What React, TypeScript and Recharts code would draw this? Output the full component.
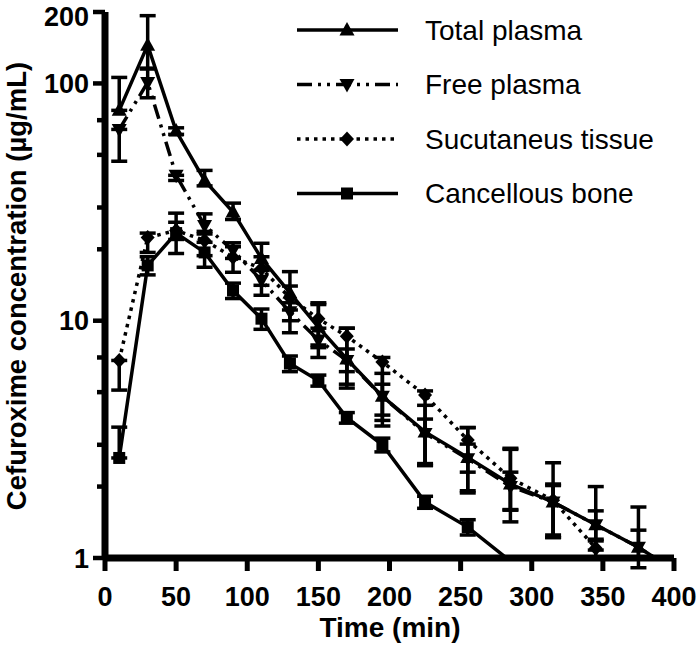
import React from 'react';
import { LineChart, Line, XAxis, YAxis, ErrorBar, Legend, Label } from 'recharts';

// sampling times (min)
const PLASMA_TIME = [10, 30, 50, 70, 90, 110, 130, 150, 170, 195, 225, 255, 285, 315, 345, 375, 405];
const TISSUE_TIME = [10, 30, 50, 70, 90, 110, 130, 150, 170, 195, 225, 255, 285, 315, 345];
const BONE_TIME = [10, 30, 50, 70, 90, 110, 130, 150, 170, 195, 225, 255, 285];

// mean concentrations (µg/mL)
const TOTAL_PLASMA = [77, 145, 63, 39, 28.7, 18.3, 13.1, 9.4, 6.9, 4.8, 3.4, 2.65, 2.05, 1.72, 1.38, 1.11, 0.85];
const FREE_PLASMA = [64, 101, 41, 25.2, 19.8, 14.8, 10.9, 8.3, 6.8, 4.8, 3.35, 2.62, 2.0, 1.72, 1.38, 1.11, 0.85];
const SUBCUT_TISSUE = [6.8, 22.4, 24, 21.8, 18.5, 16.6, 12.5, 10.2, 8.6, 6.7, 4.86, 3.14, 2.17, 1.75, 1.1];
const CANCELLOUS_BONE = [2.64, 17.1, 23.4, 19.4, 13.4, 10.2, 6.6, 5.6, 3.9, 3.0, 1.72, 1.35, 0.97];

// error bars [below, above]
const TOTAL_ERR = [[0, 29], [30, 48], [2, 2], [2, 4], [2, 2.6], [2, 2.9], [2, 3], [1.5, 2.5], [1.5, 2.4], [1, 1.2], [0.9, 1.0], [0.35, 0.9], [0.45, 0.85], [0.5, 0.8], [0.3, 0.62], [0.2, 0.53], null];
const FREE_ERR = [[17, 0], [14, 15], [2, 0], [2, 3], [1.5, 1.5], [2, 1.5], [2, 1], [1.3, 1], [1.6, 0.8], [0.8, 0.6], [0.9, 0.5], [0.7, 0.4], [0.41, 0.3], [0.5, 0.3], [0.2, 0.2], [0.1, 0.2], null];
const TISSUE_ERR = [[1.7, 0], [3, 1], [2, 2], [3, 2], [2.5, 2], [2.5, 2], [2.5, 1.5], [2.5, 1.5], [2.5, 0.7], [3.1, 0.3], [2.4, 0.2], [1.26, 0.4], [0.75, 0.7], [0.5, 0.3], [0.1, 0.1]];
const BONE_ERR = [[0, 0.92], [1.5, 1.5], [4.2, 5], [2.6, 2], [1, 1], [1, 1], [0.5, 0.5], [0.3, 0.3], [0.2, 0.2], [0.2, 0.2], [0.1, 0.1], [0.1, 0.1], null];

const X_TICKS = [0, 50, 100, 150, 200, 250, 300, 350, 400];
const Y_TICKS = [1, 2, 3, 4, 5, 6, 7, 8, 9, 10, 20, 30, 40, 50, 60, 70, 80, 90, 100, 200];
const Y_LABELED = [1, 10, 100, 200];

const FONT = '"Liberation Sans", Arial, sans-serif';

const build = (time: number[], conc: number[], err: any[]) =>
  time.map((t, i) => ({ time: t, conc: conc[i], err: err[i] }));

const SERIES = [
  { name: 'Total plasma', data: build(PLASMA_TIME, TOTAL_PLASMA, TOTAL_ERR), dash: undefined, shape: 'up' },
  { name: 'Free plasma', data: build(PLASMA_TIME, FREE_PLASMA, FREE_ERR), dash: '15 6 3 6 3 6', shape: 'down' },
  { name: 'Sucutaneus tissue', data: build(TISSUE_TIME, SUBCUT_TISSUE, TISSUE_ERR), dash: '3.5 5', shape: 'diamond' },
  { name: 'Cancellous bone', data: build(BONE_TIME, CANCELLOUS_BONE, BONE_ERR), dash: undefined, shape: 'square' },
];

function Marker({ shape, cx, cy }: { shape: string; cx: number; cy: number }) {
  if (shape === 'up') {
    return <polygon points={`${cx},${cy - 8} ${cx + 7.5},${cy + 5.5} ${cx - 7.5},${cy + 5.5}`} fill="#000" />;
  }
  if (shape === 'down') {
    return <polygon points={`${cx - 7.5},${cy - 5.5} ${cx + 7.5},${cy - 5.5} ${cx},${cy + 8}`} fill="#000" />;
  }
  if (shape === 'diamond') {
    return <polygon points={`${cx},${cy - 7.5} ${cx + 7},${cy} ${cx},${cy + 7.5} ${cx - 7},${cy}`} fill="#000" />;
  }
  return <rect x={cx - 6} y={cy - 6} width={12} height={12} fill="#000" />;
}

const makeDot = (shape: string) => (props: any) => {
  const { cx, cy, value, index } = props;
  if (cx == null || cy == null || value < 1) return <g key={`${shape}-${index}`} />;
  return (
    <g key={`${shape}-${index}`}>
      <Marker shape={shape} cx={cx} cy={cy} />
    </g>
  );
};

const YTick = (props: any) => {
  const { x, y, payload } = props;
  const major = Y_LABELED.includes(payload.value);
  const len = major ? 12 : 8;
  return (
    <g>
      <line x1={x} x2={x - len} y1={y} y2={y} stroke="#000" strokeWidth={4.5} />
      {major && (
        <text
          x={x - len - 4}
          y={y}
          dy={payload.value === 200 ? '0.5em' : '0.36em'}
          textAnchor="end"
          fontFamily={FONT}
          fontWeight="bold"
          fontSize={27}
          fill="#000"
        >
          {payload.value}
        </text>
      )}
    </g>
  );
};

const XTick = (props: any) => {
  const { x, y, payload } = props;
  return (
    <g>
      <line x1={x} x2={x} y1={y} y2={y + 13} stroke="#000" strokeWidth={5} />
      <text x={x} y={y + 48} textAnchor="middle" fontFamily={FONT} fontWeight="bold" fontSize={27} fill="#000">
        {payload.value}
      </text>
    </g>
  );
};

const renderLegend = () => (
  <svg width={420} height={220}>
    {SERIES.map((s, i) => {
      const cy = 30 + i * 54.5;
      return (
        <g key={s.name}>
          <line x1={17} x2={118} y1={cy} y2={cy} stroke="#000" strokeWidth={3.5} strokeDasharray={s.dash} />
          <Marker shape={s.shape} cx={67} cy={cy} />
          <text x={145} y={cy} dy="0.355em" fontFamily={FONT} fontSize={28} fill="#000">
            {s.name}
          </text>
        </g>
      );
    })}
  </svg>
);

export default function App() {
  return (
    <div style={{ position: 'absolute', left: 0, top: 0, background: '#fff' }}>
      <LineChart width={700} height={659} margin={{ top: 12, right: 26, left: 0, bottom: 0 }}>
        <XAxis
          dataKey="time"
          type="number"
          domain={[0, 400]}
          ticks={X_TICKS}
          allowDataOverflow
          height={101}
          tickLine={false}
          tickSize={0}
          tickMargin={0}
          tick={<XTick />}
          axisLine={{ stroke: '#000', strokeWidth: 7 }}
        >
          <Label
            content={() => (
              <text x={390} y={637} textAnchor="middle" fontFamily={FONT} fontWeight="bold" fontSize={28} fill="#000">
                Time (min)
              </text>
            )}
          />
        </XAxis>
        <YAxis
          type="number"
          scale="log"
          domain={[1, 200]}
          ticks={Y_TICKS}
          allowDataOverflow
          width={105}
          tickLine={false}
          tickSize={0}
          tickMargin={0}
          tick={<YTick />}
          axisLine={{ stroke: '#000', strokeWidth: 7 }}
        >
          <Label
            content={() => (
              <text transform="translate(26, 286) rotate(-90)" textAnchor="middle" fontFamily={FONT} fontWeight="bold" fontSize={27.5} fill="#000">
                Cefuroxime concentration (µg/mL)
              </text>
            )}
          />
        </YAxis>
        <Legend
          layout="horizontal"
          verticalAlign="middle"
          align="center"
          content={renderLegend}
          wrapperStyle={{ top: 0, left: 280, width: 420, height: 220 }}
        />
        {SERIES.map((s) => (
          <Line
            key={s.name}
            name={s.name}
            data={s.data}
            dataKey="conc"
            type="linear"
            stroke="#000"
            strokeWidth={3.5}
            strokeDasharray={s.dash}
            dot={makeDot(s.shape)}
            activeDot={false}
            isAnimationActive={false}
          >
            <ErrorBar dataKey="err" direction="y" stroke="#000" strokeWidth={3.5} width={8} />
          </Line>
        ))}
      </LineChart>
    </div>
  );
}
